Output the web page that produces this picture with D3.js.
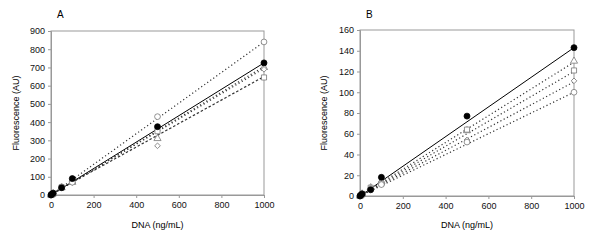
<!DOCTYPE html>
<html>
<head>
<meta charset="utf-8">
<script src="https://cdn.jsdelivr.net/npm/d3@7"></script>
<style>
body { margin:0; background:#fff; }
text { font-family: "Liberation Sans", Arial, sans-serif; }
</style>
</head>
<body>
<script>
var dna = [0, 5, 10, 50, 100, 500, 1000];

// panel A
var aFilled   = [0, 5, 10, 40, 90, 375, 725];
var aCircle   = [0, 4, 8, 45, 70, 430, 840];
var aDiamond  = [0, 3, 7, 38, 68, 270, 690];
var aSquare   = [0, 4, 8, 42, 72, 350, 645];
var aTriangle = [0, 4, 8, 40, 70, 310, 700];
// trend line end values (at 0 and 1000)
var aFit = {filled:[0,725], circle:[0,840], diamond:[0,695], square:[5,650], triangle:[0,705]};

// panel B
var bFilled   = [0, 1, 2, 6, 18, 77, 143];
var bCircle   = [0, 1, 2, 7, 11, 52, 100];
var bDiamond  = [0, 1, 2, 7, 11, 54, 111];
var bSquare   = [0, 1, 2, 8, 12, 64, 121];
var bTriangle = [0, 1, 2, 8, 14, 63, 130];
var bFit = {filled:[0,143], circle:[0,100], diamond:[0,110], square:[0,120], triangle:[0,129]};

var xTicks = [0, 200, 400, 600, 800, 1000];
var aTicks = [0,100,200,300,400,500,600,700,800,900];
var bTicks = [0,20,40,60,80,100,120,140,160];

var svg = d3.select("body").append("svg").attr("width", 600).attr("height", 241);

function panel(o) {
  var x = d3.scaleLinear().domain([0, 1000]).range([o.left, o.right]);
  var y = d3.scaleLinear().domain([0, o.ymax]).range([o.bottom, o.top]);
  var g = svg.append("g");

  // frame
  g.append("rect").attr("x", o.left).attr("y", o.top)
    .attr("width", o.right - o.left).attr("height", o.bottom - o.top)
    .attr("fill", "none").attr("stroke", "#999").attr("stroke-width", 1);

  var yAxis = d3.axisLeft(y).tickValues(o.yticks).tickFormat(d3.format("d")).tickSize(3).tickPadding(3);
  var xAxis = d3.axisBottom(x).tickValues(xTicks).tickFormat(d3.format("d")).tickSize(3).tickPadding(4);
  var ya = g.append("g").attr("transform", "translate(" + o.left + ",0)").call(yAxis);
  var xa = g.append("g").attr("transform", "translate(0," + o.bottom + ")").call(xAxis);
  [ya, xa].forEach(function(a) {
    a.select(".domain").attr("stroke", "#999");
    a.selectAll(".tick line").attr("stroke", "#999");
    a.selectAll("text").attr("font-size", 9).attr("fill", "#111")
      .style("font-family", "Liberation Sans, Arial, sans-serif");
  });

  g.append("text").attr("x", o.left + 6).attr("y", 18).attr("font-size", 10).text(o.title);
  g.append("text").attr("x", (o.left + o.right) / 2).attr("y", 228)
    .attr("text-anchor", "middle").attr("font-size", 9).text("DNA (ng/mL)");
  g.append("text").attr("transform", "translate(" + o.ylabX + "," + ((o.top + o.bottom) / 2) + ") rotate(-90)")
    .attr("text-anchor", "middle").attr("font-size", 9).text("Fluorescence (AU)");

  var line = d3.line().x(function(d){ return x(d[0]); }).y(function(d){ return y(d[1]); });

  o.series.forEach(function(s) {
    var f = o.fit[s.key];
    g.append("path").attr("d", line([[0, f[0]], [1000, f[1]]]))
      .attr("fill", "none").attr("stroke", s.key === "filled" ? "#000" : "#333")
      .attr("stroke-width", s.key === "filled" ? 1 : 1.2)
      .attr("stroke-dasharray", s.dash);
  });

  o.series.slice().reverse().forEach(function(s) {
    var sym = d3.symbol().type(s.sym).size(s.size);
    g.selectAll(null).data(s.vals).enter().append("path")
      .attr("d", sym)
      .attr("transform", function(d, i) {
        return "translate(" + x(dna[i]) + "," + y(d) + ")" + (s.rot ? " rotate(45)" : "");
      })
      .attr("fill", s.key === "filled" ? "#000" : "#fff")
      .attr("stroke", s.key === "filled" ? "#000" : "#777")
      .attr("stroke-width", 0.8);
  });
}

function seriesList(f, c, d, s, t, squareDash) {
  return [
    {key:"filled", vals:f, sym:d3.symbolCircle, size:28, dash:null},
    {key:"circle", vals:c, sym:d3.symbolCircle, size:26, dash:"1.2,2.5"},
    {key:"diamond", vals:d, sym:d3.symbolSquare, size:16, rot:true, dash:"1.2,2.5"},
    {key:"square", vals:s, sym:d3.symbolSquare, size:26, dash:squareDash},
    {key:"triangle", vals:t, sym:d3.symbolTriangle, size:22, dash:"1.2,2.5"}
  ];
}

panel({title:"A", left:51, right:264, top:31, bottom:195, ymax:900, yticks:aTicks, ylabX:19,
       fit:aFit, series:seriesList(aFilled, aCircle, aDiamond, aSquare, aTriangle, "2.5,2")});
panel({title:"B", left:360, right:574, top:30, bottom:196, ymax:160, yticks:bTicks, ylabX:327,
       fit:bFit, series:seriesList(bFilled, bCircle, bDiamond, bSquare, bTriangle, "1.2,2.5")});
</script>
</body>
</html>
